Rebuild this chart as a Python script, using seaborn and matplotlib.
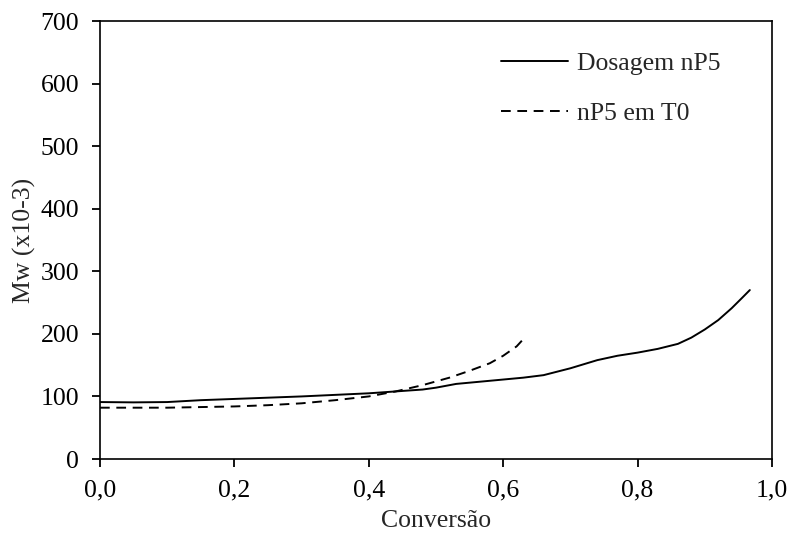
import matplotlib
matplotlib.use("Agg")
import matplotlib.pyplot as plt
import seaborn as sns
import pandas as pd

# Data
dos_x = [0.00, 0.05, 0.10, 0.15, 0.20, 0.25, 0.30, 0.35, 0.40, 0.44, 0.48, 0.50,
         0.53, 0.57, 0.60, 0.63, 0.66, 0.70, 0.74, 0.77, 0.80, 0.83, 0.86, 0.88,
         0.90, 0.92, 0.94, 0.955, 0.967]
dos_y = [91, 90.5, 91, 94, 96, 98, 100, 102.5, 105, 108, 111, 114,
         120, 124, 127, 130, 134, 145, 158, 165, 170, 176, 184, 194,
         207, 222, 241, 257, 270]
t0_x = [0.00, 0.05, 0.10, 0.15, 0.20, 0.25, 0.30, 0.35, 0.40, 0.44, 0.48, 0.52,
        0.55, 0.58, 0.60, 0.62, 0.632]
t0_y = [82, 82, 82, 83, 84, 86, 89, 94, 100, 108, 118, 130,
        141, 153, 165, 180, 194]
series_names = ["Dosagem nP5", "nP5 em T0"]
x_ticks = [0.0, 0.2, 0.4, 0.6, 0.8, 1.0]
x_tick_labels = ["0,0", "0,2", "0,4", "0,6", "0,8", "1,0"]
y_ticks = [0, 100, 200, 300, 400, 500, 600, 700]

df = pd.concat([
    pd.DataFrame({"x": dos_x, "y": dos_y, "s": series_names[0]}),
    pd.DataFrame({"x": t0_x, "y": t0_y, "s": series_names[1]}),
], ignore_index=True)

sns.set_style("ticks")
plt.rcParams["font.family"] = ["Liberation Serif", "DejaVu Serif"]
FS = 18.5
plt.rcParams["font.size"] = FS

fig = plt.figure(figsize=(7.9, 5.34), dpi=100)
ax = fig.add_axes([100/790, 1-459/534, 672/790, 438/534])

sns.lineplot(data=df, x="x", y="y", style="s", color="black", linewidth=1.4,
             dashes={series_names[0]: "", series_names[1]: (5, 3.4)},
             ax=ax, sort=False, estimator=None)

ax.set_xlim(0, 1)
ax.set_ylim(0, 700)
ax.set_xticks(x_ticks)
ax.set_xticklabels(x_tick_labels)
ax.set_yticks(y_ticks)
ax.set_xlabel("Conversão", fontsize=FS, labelpad=6)
ax.set_ylabel("Mw (x10-3)", fontsize=FS, labelpad=3)
ax.tick_params(axis="both", direction="out", length=6, width=1.3, labelsize=FS,
               colors="black", top=False, right=False)
ax.tick_params(axis="y", pad=9)
ax.tick_params(axis="x", pad=9)
for sp in ax.spines.values():
    sp.set_visible(True)
    sp.set_linewidth(1.2)
    sp.set_color("black")

leg = ax.legend(loc="upper left", bbox_to_anchor=((501-100)/672, (459-52)/438),
                frameon=False, borderpad=0, borderaxespad=0, handlelength=2.6,
                handletextpad=0.35, labelspacing=1.05, fontsize=FS)

fig.savefig("out.png", dpi=100)
